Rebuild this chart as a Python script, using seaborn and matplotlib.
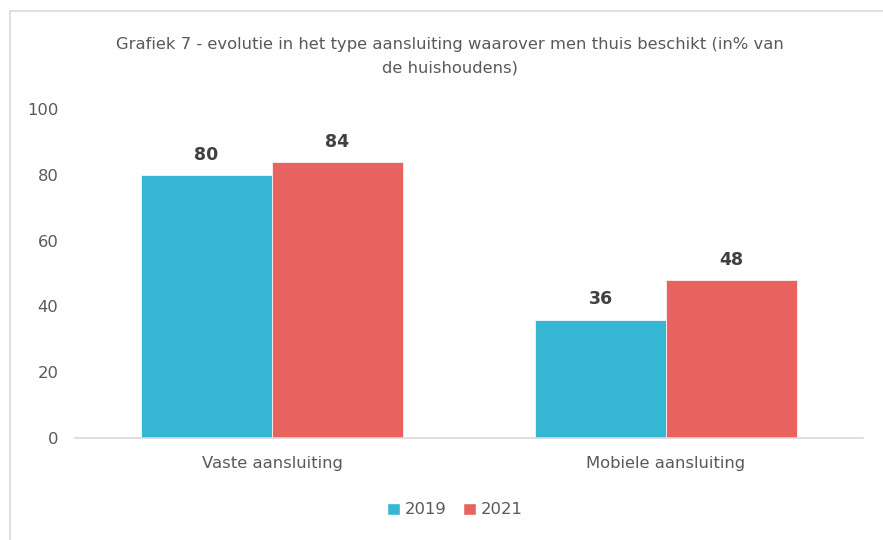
import pandas as pd
import seaborn as sns
import matplotlib.pyplot as plt
from matplotlib.lines import Line2D
from matplotlib.patches import Patch

# Data
categories = ["Vaste aansluiting", "Mobiele aansluiting"]
years = ["2019", "2021"]
values_2019 = [80, 36]
values_2021 = [84, 48]

df = pd.DataFrame({
    "type": categories * 2,
    "jaar": [years[0]] * 2 + [years[1]] * 2,
    "pct": values_2019 + values_2021,
})

colors = {"2019": "#35B7D3", "2021": "#E8635F"}
txt = "#595959"

sns.set_theme(style="white")
plt.rcParams['font.family'] = ['DejaVu Sans']

W, H = 883, 540
fig = plt.figure(figsize=(W / 100, H / 100), dpi=100)
ax = fig.add_axes([75 / W, (H - 438) / H, (863 - 75) / W, (438 - 109) / H])

sns.barplot(data=df, x="type", y="pct", hue="jaar", palette=colors,
            width=0.665, gap=0, ax=ax, legend=False, saturation=1,
            edgecolor="white", linewidth=0.5)

ax.set_ylim(0, 100)
ax.set_xlim(-0.5, 1.5)
ax.set_yticks(range(0, 101, 20))
ax.set_xlabel("")
ax.set_ylabel("")
for s in ["top", "right", "left"]:
    ax.spines[s].set_visible(False)
ax.spines["bottom"].set_color("#D9D9D9")
ax.spines["bottom"].set_linewidth(1.2)
ax.tick_params(axis="both", length=0, labelsize=11.8, colors=txt)
ax.tick_params(axis="y", pad=12)
ax.tick_params(axis="x", pad=13)
ax.grid(False)

for cont in ax.containers:
    ax.bar_label(cont, fmt="%d", padding=8, fontsize=12.5, fontweight="bold", color="#404040")

# titel
fig.text(450 / W, 1 - 45 / H, "Grafiek 7 - evolutie in het type aansluiting waarover men thuis beschikt (in% van",
         ha="center", va="center", fontsize=11.8, color=txt)
fig.text(450 / W, 1 - 68 / H, "de huishoudens)", ha="center", va="center", fontsize=11.8, color=txt)

# legende
handles = [Patch(facecolor=colors[y], label=y) for y in years]
fig.legend(handles=handles, loc="center", bbox_to_anchor=(455 / W, 1 - 510 / H), ncol=2,
           frameon=False, fontsize=11.8, handlelength=0.8, handleheight=0.8,
           handletextpad=0.3, columnspacing=1.0, labelcolor=txt)

# kader
fig.add_artist(Line2D([10 / W, 10 / W], [0, 1 - 11 / H], color="#D9D9D9", lw=1.2))
fig.add_artist(Line2D([10 / W, 1], [1 - 11 / H, 1 - 11 / H], color="#D9D9D9", lw=1.2))

fig.savefig("out.png", dpi=100, facecolor="white")
